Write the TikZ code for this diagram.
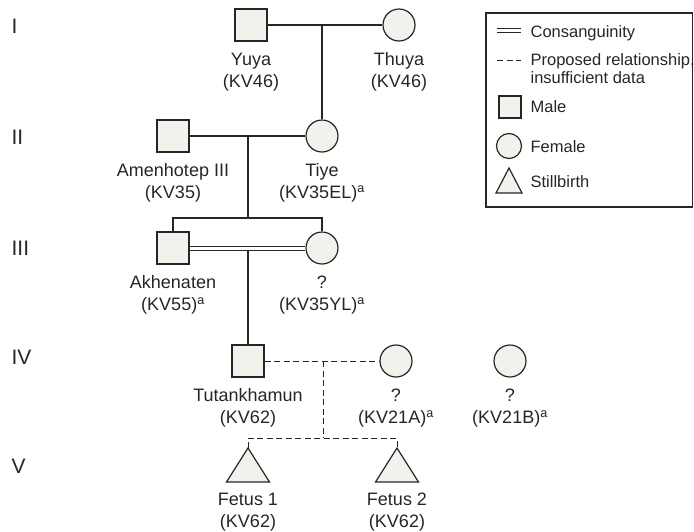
\documentclass[tikz,border=0pt]{standalone}
\usepackage{fontspec}
\setmainfont{Liberation Sans}
\usetikzlibrary{positioning}
\definecolor{symfill}{HTML}{F2F2ED}
\definecolor{inkgray}{HTML}{262626}

\begin{document}
\begin{tikzpicture}[x=1pt,y=-1pt,line width=1.2pt,color=inkgray,
  male/.style={draw,rectangle,fill=symfill,minimum size=32pt,inner sep=0pt},
  female/.style={draw,circle,fill=symfill,minimum size=32pt,inner sep=0pt},
  stillbirth/.style={draw,fill=symfill},
  consang/.style={line width=0.9pt},
  proposed/.style={line width=1pt,dash pattern=on 6pt off 3.5pt},
  lbl/.style={anchor=north,align=center,inner sep=0pt,yshift=-10.5pt,
    font=\fontsize{18}{22}\selectfont},
  legtxt/.style={anchor=base west,inner sep=0pt,font=\fontsize{16.5}{20}\selectfont},
  gen/.style={anchor=base west,inner sep=0pt,font=\fontsize{21}{24}\selectfont}]
  \useasboundingbox (0,0) rectangle (694,531);

  % generations
  \node[gen] (genI)   at (11,33)  {I};
  \node[gen] (genII)  at (11,144) {II};
  \node[gen] (genIII) at (11,255) {III};
  \node[gen] (genIV)  at (11,364) {IV};
  \node[gen] (genV)   at (11,473) {V};

  % I
  \node[male]   (yuya)  at (251,25) {};
  \node[female] (thuya) at (399,25) {};
  \node[lbl] (yuyalbl)  at (yuya.south)  {Yuya\\(KV46)};
  \node[lbl] (thuyalbl) at (thuya.south) {Thuya\\(KV46)};
  \coordinate (mateI) at (322,25);
  \draw (yuya) -- (thuya);

  % II
  \node[male]   (amenhotep) at (173,136) {};
  \node[female] (tiye)      at (322,136) {};
  \node[lbl] (amenhoteplbl) at (amenhotep.south) {Amenhotep III\\(KV35)};
  \node[lbl] (tiyelbl)      at (tiye.south) {Tiye\\(KV35EL)\textsuperscript{a}};
  \coordinate (mateII) at (248,136);
  \coordinate (sibIII) at (248,218);
  \draw (mateI) -- (tiye);
  \draw (amenhotep) -- (tiye);
  \draw (mateII) -- (sibIII);

  % III
  \node[male]   (akhenaten) at (173,248) {};
  \node[female] (youngerlady) at (322,248) {};
  \node[lbl] (akhenatenlbl) at (akhenaten.south) {Akhenaten\\(KV55)\textsuperscript{a}};
  \node[lbl] (youngerladylbl) at (youngerlady.south) {?\\(KV35YL)\textsuperscript{a}};
  \coordinate (mateIII) at (248,250);
  \draw (akhenaten) |- (sibIII) -| (youngerlady);
  % consanguinity: two lines
  \draw[consang] ([yshift=2pt]akhenaten.east) -- ([yshift=2pt]youngerlady.west);
  \draw[consang] ([yshift=-2pt]akhenaten.east) -- ([yshift=-2pt]youngerlady.west);

  % IV
  \node[male]   (tutankhamun) at (248,361) {};
  \node[female] (kvA) at (396,361) {};
  \node[female] (kvB) at (510,361) {};
  \node[lbl] (tutankhamunlbl) at (tutankhamun.south) {Tutankhamun\\(KV62)};
  \node[lbl] (kvAlbl) at (kvA.south) {?\\(KV21A)\textsuperscript{a}};
  \node[lbl] (kvBlbl) at (kvB.south) {?\\(KV21B)\textsuperscript{a}};
  \coordinate (mateIV) at (323,361);
  \coordinate (sibV) at (323,438);
  \draw (mateIII) -- (tutankhamun);
  \draw[proposed] (tutankhamun) -- (kvA);
  \draw[proposed] (mateIV) -- (sibV);

  % V
  \coordinate (fetusA) at (248,448);
  \coordinate (fetusB) at (397,448);
  \draw[stillbirth] (fetusA) -- ++(21.5,34) -- ++(-43,0) -- cycle;
  \draw[stillbirth] (fetusB) -- ++(21.5,34) -- ++(-43,0) -- cycle;
  \node[lbl] (fetusAlbl) at (248,482) {Fetus 1\\(KV62)};
  \node[lbl] (fetusBlbl) at (397,482) {Fetus 2\\(KV62)};
  \draw[proposed] (fetusA) |- (sibV) -| (fetusB);

  % legend
  \draw (486,13) rectangle (692.5,207);
  \coordinate (keyAl) at (497,30);
  \coordinate (keyAr) at (521,30);
  \coordinate (keyBl) at (497,60);
  \coordinate (keyBr) at (521,60);
  \draw[consang] ([yshift=2pt]keyAl) -- ([yshift=2pt]keyAr);
  \draw[consang] ([yshift=-2pt]keyAl) -- ([yshift=-2pt]keyAr);
  \draw[proposed] (keyBl) -- (keyBr);
  \node[male,minimum size=22pt] (keymale) at (510,107) {};
  \node[female,minimum size=25pt] (keyfemale) at (509,146) {};
  \coordinate (keystill) at (509,168);
  \draw[stillbirth] (keystill) -- ++(13,25) -- ++(-26,0) -- cycle;
  \node[legtxt] (keyAtxt) at (530,37) {Consanguinity};
  \node[legtxt] (keyBtxt) at (530,65) {Proposed relationship,};
  \node[legtxt] (keyCtxt) at (530,83) {insufficient data};
  \node[legtxt] (keyDtxt) at (530,112) {Male};
  \node[legtxt] (keyEtxt) at (530,152) {Female};
  \node[legtxt] (keyFtxt) at (530,187) {Stillbirth};
\end{tikzpicture}
\end{document}
